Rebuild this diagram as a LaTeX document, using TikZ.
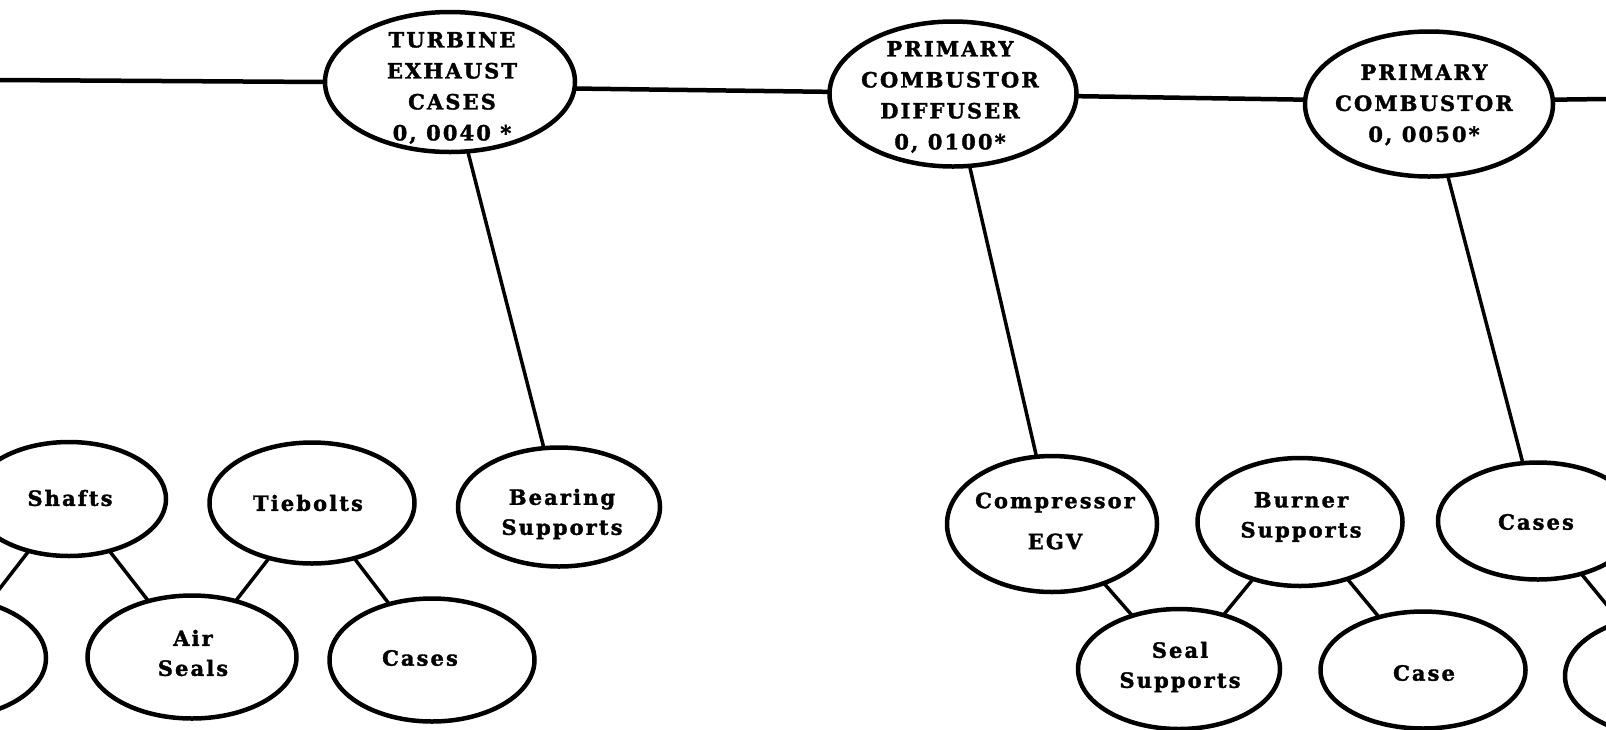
\documentclass[tikz,border=0pt]{standalone}
\usepackage{fontspec}
\setmainfont{DejaVu Serif}
\newfontfamily\trackedserif{DejaVu Serif}[LetterSpace=10, BoldFeatures={FakeBold=1.6}]
\usetikzlibrary{shapes.geometric}
\begin{document}
\begin{tikzpicture}[x=1pt,y=-1pt,
  part/.style={ellipse, draw, line width=4.5pt, inner sep=0pt, outer sep=0pt},
  txt/.style={align=center, inner sep=0pt, font=\trackedserif\bfseries\fontsize{21}{30}\selectfont},
  majortxt/.style={txt, font=\trackedserif\bfseries\fontsize{21}{31}\selectfont},
  link/.style={line width=3.5pt},
  spine/.style={line width=4.5pt},
]
\clip (0,0) rectangle (1606,729);
\fill[white] (0,0) rectangle (1606,729);

% main assemblies along the top
\node[part, minimum width=250pt, minimum height=140pt] (tec) at (450,82) {};
\node[part, minimum width=247pt, minimum height=145pt] (pcd) at (953,94) {};
\node[part, minimum width=248pt, minimum height=145pt] (pc)  at (1429,104) {};
\node[majortxt] (tec-t) at (452,88)  {TURBINE\\EXHAUST\\CASES\\0, 0040 *};
\node[majortxt] (pcd-t) at (950,97)  {PRIMARY\\COMBUSTOR\\DIFFUSER\\0, 0100*};
\node[majortxt] (pc-t)  at (1424,105) {PRIMARY\\COMBUSTOR\\0, 0050*};

\coordinate (spine-l) at (0,80);
\coordinate (spine-r) at (1606,99);
\draw[spine] (spine-l) -- (tec.west);
\draw[spine] (tec.-3) -- (pcd.179);
\draw[spine] (pcd.-1) -- (pc.178);
\draw[spine] (pc.2) -- (spine-r);

% components
\node[part, minimum width=194pt, minimum height=114pt] (shafts) at (69,499) {};
\node[part, minimum width=205pt, minimum height=121pt] (tiebolts) at (312,503) {};
\node[part, minimum width=202pt, minimum height=119pt] (bearing) at (559,507) {};
\node[part, minimum width=200pt, minimum height=120pt] (lcut) at (-54,658) {};
\node[part, minimum width=209pt, minimum height=123pt] (airseals) at (192,657) {};
\node[part, minimum width=205pt, minimum height=123pt] (cases) at (432,660) {};

\node[part, minimum width=210pt, minimum height=136pt] (egv) at (1052,524) {};
\node[part, minimum width=205pt, minimum height=128pt] (burner) at (1300,522) {};
\node[part, minimum width=200pt, minimum height=117pt] (casesr) at (1538,521) {};
\node[part, minimum width=202pt, minimum height=120pt] (seal) at (1179,669) {};
\node[part, minimum width=205pt, minimum height=117pt] (case) at (1423,670) {};
\node[part, minimum width=200pt, minimum height=120pt] (rcut) at (1665,676) {};

\node[txt] (shafts-t) at (70,498) {Shafts};
\node[txt] (tiebolts-t) at (308,503) {Tiebolts};
\node[txt] (bearing-t) at (562,514) {Bearing\\Supports};
\node[txt] (airseals-t) at (193,653) {Air\\Seals};
\node[txt] (cases-t) at (420,658) {Cases};
\node[txt, font=\trackedserif\bfseries\fontsize{21}{41}\selectfont] (egv-t) at (1055,521) {Compressor\\EGV};
\node[txt] (burner-t) at (1301,517) {Burner\\Supports};
\node[txt] (casesr-t) at (1536,522) {Cases};
\node[txt] (seal-t) at (1180,667) {Seal\\Supports};
\node[txt] (case-t) at (1424,673) {Case};

% connectors
\draw[link] (tec) -- (bearing);
\draw[link] (pcd) -- (egv);
\draw[link] (pc) -- (casesr);
\draw[link] (shafts) -- (lcut);
\draw[link] (shafts) -- (airseals);
\draw[link] (tiebolts) -- (airseals);
\draw[link] (tiebolts) -- (cases);
\draw[link] (egv) -- (seal);
\draw[link] (burner) -- (seal);
\draw[link] (burner) -- (case);
\draw[link] (casesr) -- (rcut);
\end{tikzpicture}
\end{document}
